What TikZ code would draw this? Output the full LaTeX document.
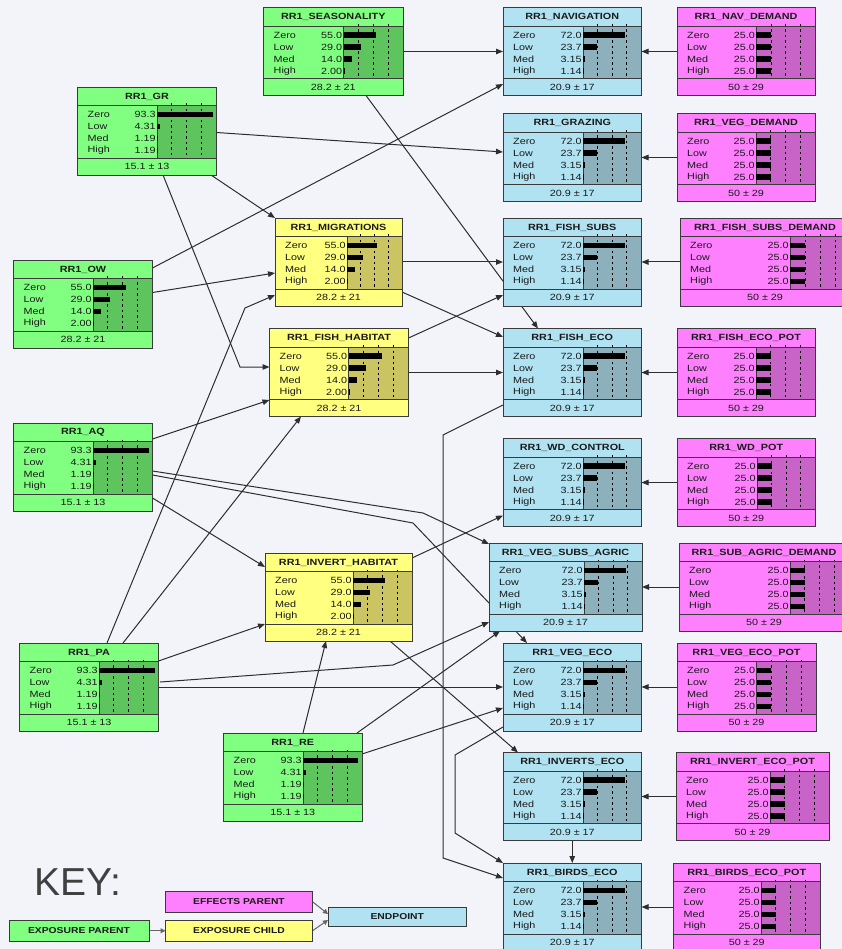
\documentclass[tikz,border=0pt]{standalone}
\usepackage{fontspec}
\setmainfont[FakeStretch=1.2]{Liberation Sans}
\newfontfamily\keyfont{Liberation Sans}
\usetikzlibrary{calc,arrows.meta}
\pgfdeclarelayer{bg}\pgfdeclarelayer{edges}\pgfsetlayers{bg,edges,main}
\definecolor{bgcol}{HTML}{F3F4F9}
\definecolor{colGmain}{HTML}{80FF80}
\definecolor{colGbar}{HTML}{5EC45E}
\definecolor{colYmain}{HTML}{FFFF80}
\definecolor{colYbar}{HTML}{CAC462}
\definecolor{colBmain}{HTML}{B0E2F2}
\definecolor{colBbar}{HTML}{8CB0BC}
\definecolor{colMmain}{HTML}{FF80FF}
\definecolor{colMbar}{HTML}{C864C8}
\definecolor{bordcol}{HTML}{3A3A3A}
\definecolor{txtcol}{HTML}{1A1A1A}
\definecolor{edgecol}{HTML}{2E2E2E}
\definecolor{keygray}{HTML}{404040}
\def\setA{Zero/93.3,Low/4.31,Med/1.19,High/1.19}
\def\footA{15.1 ± 13}
\def\setB{Zero/55.0,Low/29.0,Med/14.0,High/2.00}
\def\footB{28.2 ± 21}
\def\setC{Zero/72.0,Low/23.7,Med/3.15,High/1.14}
\def\footC{20.9 ± 17}
\def\setD{Zero/25.0,Low/25.0,Med/25.0,High/25.0}
\def\footD{50 ± 29}
% #1 id, #2 x, #3 y, #4 width, #5 separator offset, #6 colour letter, #7 title, #8 value set
\newcommand\bnnode[8]{%
  \node[bnbox, fill=col#6main, minimum width=#4pt, anchor=north west] (#1) at (#2,#3) {};
  \begin{scope}[shift={(#2,#3)}]
    \fill[col#6bar] (#5,18.5) rectangle (#4,71);
    \pgfmathsetmacro\bw{#4-#5}
    \foreach \f in {0.25,0.5,0.75}{\draw[dotln] ({#5+\f*\bw},16.5) -- ({#5+\f*\bw},71);}
    \draw[inner] (0,18.5) -- (#4,18.5) (0,71) -- (#4,71) (#5,18.5) -- (#5,71);
    \node[ttl] at ({#4/2},9.6) {#7};
    \expandafter\let\expandafter\curset\csname set#8\endcsname
    \foreach \lab/\v [count=\i] in \curset {
      \pgfmathsetmacro\cy{15.5+12*\i}
      \fill[black] (#5,\cy-2.8) rectangle ({#5+\v/100*\bw},\cy+2.8);
      \node[lbl, anchor=west] at (10,\cy) {\lab};
      \node[lbl, anchor=east] at (#5-1.2,\cy) {\v};
    }
    \node[lbl] at ({#4/2},79.8) {\csname foot#8\endcsname};
  \end{scope}
  \draw[bnborder] (#1.north west) rectangle (#1.south east);
}
\begin{document}
\begin{tikzpicture}[x=1pt,y=-1pt,
  bnbox/.style={draw=bordcol, line width=0.9pt, minimum height=88pt, inner sep=0pt, outer sep=0pt},
  bnborder/.style={draw=bordcol, line width=0.9pt},
  inner/.style={draw=bordcol, line width=0.9pt},
  dotln/.style={draw=black, line width=0.9pt, dash pattern=on 2.5pt off 3pt},
  ttl/.style={font=\bfseries\fontsize{9}{10}\selectfont, text=txtcol, inner sep=0pt},
  lbl/.style={font=\fontsize{9}{10}\selectfont, text=txtcol, inner sep=0pt},
  conn/.style={draw=edgecol, line width=1pt, -{Triangle[length=7pt,width=5.5pt]}},
  keyconn/.style={draw=keygray!80, line width=1pt, -{Triangle[length=5pt,width=5pt]}},
  keybox/.style={draw=bordcol, line width=0.9pt, font=\bfseries\fontsize{8.6}{10}\selectfont, text=txtcol, inner sep=0pt, outer sep=0pt, minimum height=20.5pt, anchor=north west}]
\begin{pgfonlayer}{bg}
\fill[bgcol] (0,0) rectangle (842,949);
\end{pgfonlayer}
\useasboundingbox (0,0) rectangle (842,949);

% exposure parents (green)
\bnnode{seas}{263.5}{7.5}{139.5}{80}{G}{RR1\_SEASONALITY}{B}
\bnnode{gr}{77.5}{87}{139}{79.5}{G}{RR1\_GR}{A}
\bnnode{ow}{13.5}{260}{139}{79.5}{G}{RR1\_OW}{B}
\bnnode{aq}{13.5}{423}{139}{79.5}{G}{RR1\_AQ}{A}
\bnnode{pa}{19.5}{643}{139}{79.5}{G}{RR1\_PA}{A}
\bnnode{re}{223.5}{733}{138.5}{79.5}{G}{RR1\_RE}{A}
% exposure children (yellow)
\bnnode{mig}{275}{218}{127}{72}{Y}{RR1\_MIGRATIONS}{B}
\bnnode{fishhab}{269.5}{328.5}{139}{79}{Y}{RR1\_FISH\_HABITAT}{B}
\bnnode{invhab}{265}{553}{147}{88}{Y}{RR1\_INVERT\_HABITAT}{B}
% endpoints (blue)
\bnnode{nav}{503}{7.5}{138.5}{80}{B}{RR1\_NAVIGATION}{C}
\bnnode{graz}{503}{113.5}{138.5}{80}{B}{RR1\_GRAZING}{C}
\bnnode{fsubs}{503}{218}{138.5}{80}{B}{RR1\_FISH\_SUBS}{C}
\bnnode{feco}{503}{328.5}{138.5}{80}{B}{RR1\_FISH\_ECO}{C}
\bnnode{wd}{503}{438.5}{138.5}{80}{B}{RR1\_WD\_CONTROL}{C}
\bnnode{vsa}{489}{543}{153}{95}{B}{RR1\_VEG\_SUBS\_AGRIC}{C}
\bnnode{veco}{503}{643}{138.5}{80}{B}{RR1\_VEG\_ECO}{C}
\bnnode{ieco}{503}{752.5}{138.5}{80}{B}{RR1\_INVERTS\_ECO}{C}
\bnnode{beco}{503}{863}{138.5}{80}{B}{RR1\_BIRDS\_ECO}{C}
% effects parents (magenta)
\bnnode{navd}{677}{7.5}{138}{79.3}{M}{RR1\_NAV\_DEMAND}{D}
\bnnode{vegd}{677}{113.5}{138}{79}{M}{RR1\_VEG\_DEMAND}{D}
\bnnode{fsd}{680}{218}{170}{110}{M}{RR1\_FISH\_SUBS\_DEMAND}{D}
\bnnode{fep}{677}{328.5}{138}{79}{M}{RR1\_FISH\_ECO\_POT}{D}
\bnnode{wdp}{677}{438.5}{138.5}{80}{M}{RR1\_WD\_POT}{D}
\bnnode{sad}{679}{543}{170}{111}{M}{RR1\_SUB\_AGRIC\_DEMAND}{D}
\bnnode{vep}{677}{643}{139}{79.5}{M}{RR1\_VEG\_ECO\_POT}{D}
\bnnode{iep}{676}{752.5}{153}{94}{M}{RR1\_INVERT\_ECO\_POT}{D}
\bnnode{bep}{673.5}{863}{146.5}{87.5}{M}{RR1\_BIRDS\_ECO\_POT}{D}

% key
\node[anchor=base west, font=\keyfont\fontsize{39}{42}\selectfont, text=keygray, inner sep=0pt] (keytitle) at (34,895) {KEY:};
\node[keybox, fill=colMmain, minimum width=147pt] (effp) at (165.5,891.5) {EFFECTS PARENT};
\node[keybox, fill=colGmain, minimum width=140pt] (expp) at (9,920.5) {EXPOSURE PARENT};
\node[keybox, fill=colYmain, minimum width=147pt] (expc) at (165.5,920.5) {EXPOSURE CHILD};
\node[keybox, fill=colBmain, minimum width=138.5pt, minimum height=19pt] (endp) at (328,907.5) {ENDPOINT};

\begin{pgfonlayer}{edges}
\draw[conn] (seas.east) -- (nav.west);
\draw[conn] ($(seas.north west)+(102.5,88)$) -- ($(feco.north west)+(35,0)$);
\draw[conn] ($(gr.north west)+(139,45.5)$) -- ($(graz.north west)+(0,38.5)$);
\draw[conn] ($(gr.north west)+(133.5,88)$) -- (mig.north west);
\draw[conn] ($(gr.north west)+(85.5,88)$) -- ($(fishhab.north west)+(-29.5,38.5)$) -- ($(fishhab.north west)+(0,38.5)$);
\draw[conn] ($(ow.north west)+(139,8)$) -- ($(nav.north west)+(0,76.5)$);
\draw[conn] ($(ow.north west)+(139,32.5)$) -- ($(mig.north west)+(0,55)$);
\draw[conn] ($(aq.north west)+(139,16)$) -- ($(fishhab.north west)+(0,71.5)$);
\draw[conn] ($(pa.north west)+(87.5,0)$) -- ($(mig.north west)+(-30,90)$) -- ($(mig.north west)+(0,77)$);
\draw[conn] ($(pa.north west)+(103.5,0)$) -- ($(fishhab.north west)+(31.5,88)$);
\draw[conn] ($(aq.north west)+(139,75)$) -- ($(invhab.north west)+(0,14)$);
\draw[conn] ($(aq.north west)+(139,48)$) -- ($(vsa.north west)+(-66,-30)$) -- ($(vsa.north west)+(0,1)$);
\draw[conn] ($(aq.north west)+(139,52)$) -- ($(veco.north west)+(-90,-120)$) -- ($(veco.north west)+(24,0)$);
\draw[conn] ($(pa.north west)+(139,18)$) -- ($(invhab.north west)+(0,71)$);
\draw[conn] ($(pa.north west)+(140.5,39)$) -- ($(vsa.north west)+(-96,122)$) -- ($(vsa.north west)+(0,79)$);
\draw[conn] (pa.east) -- (veco.west);
\draw[conn] ($(re.north west)+(79.5,0)$) -- ($(invhab.north west)+(61,88)$);
\draw[conn] ($(re.north west)+(133.5,0)$) -- ($(vsa.north west)+(11,88)$);
\draw[conn] ($(re.north west)+(138.5,21)$) -- ($(veco.north west)+(0,65)$);
\draw[conn] ($(invhab.north west)+(147,5)$) -- ($(wd.north west)+(0,77)$);
\draw[conn] ($(invhab.north west)+(125,88)$) -- ($(ieco.north west)+(15,0)$);
\draw[conn] (mig.east) -- (fsubs.west);
\draw[conn] ($(mig.north west)+(127,74)$) -- ($(feco.north west)+(0,8.5)$);
\draw[conn] ($(fishhab.north west)+(139,9.5)$) -- ($(fsubs.north west)+(0,77)$);
\draw[conn] (fishhab.east) -- (feco.west);
\draw[conn] ($(feco.north west)+(0,76.5)$) -- ($(feco.north west)+(-60,106.5)$) -- ($(beco.north west)+(-60,-5)$) -- ($(beco.north west)+(0,15)$);
\draw[conn] ($(veco.north west)+(0,84)$) -- ($(veco.north west)+(-48,112)$) -- ($(beco.north west)+(-48,-30)$) -- (beco.north west);
\draw[conn] (ieco.south) -- (beco.north);
\foreach \a/\b in {navd/nav, vegd/graz, fsd/fsubs, fep/feco, wdp/wd, sad/vsa, vep/veco, iep/ieco, bep/beco}
  \draw[conn] (\a.west) -- (\b.east);
\draw[keyconn] (expp.east) -- (expc.west);
\draw[keyconn] (effp.east) -- ([yshift=3pt]endp.west);
\draw[keyconn] (expc.east) -- ([yshift=-3pt]endp.west);
\end{pgfonlayer}
\end{tikzpicture}
\end{document}
